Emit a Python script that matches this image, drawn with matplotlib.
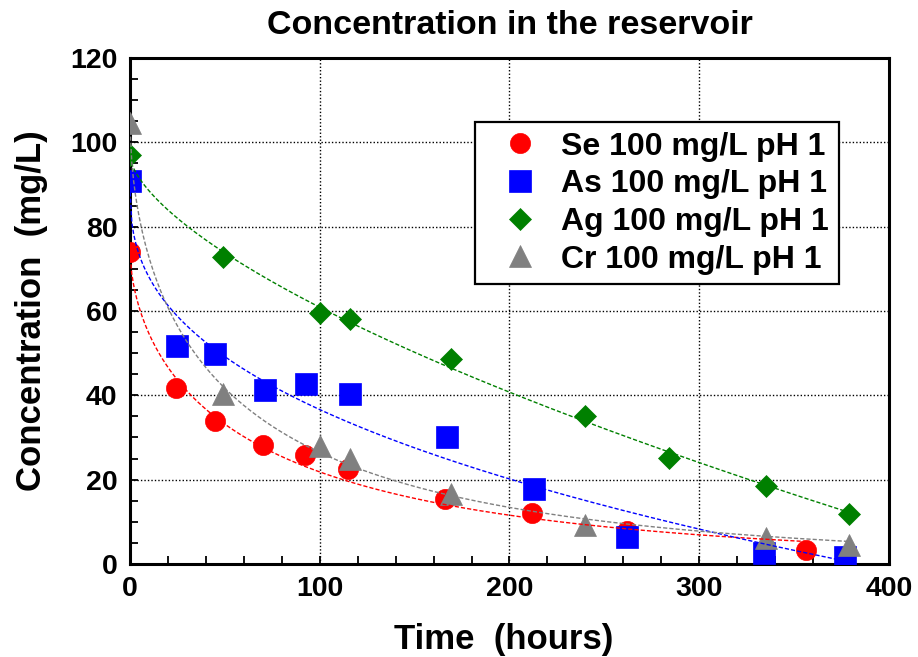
import numpy as np
import matplotlib
matplotlib.use("Agg")
import matplotlib.pyplot as plt
from matplotlib.ticker import MultipleLocator

plt.rcParams['font.family'] = ['Liberation Sans', 'DejaVu Sans']
plt.rcParams['font.weight'] = 'bold'

# sampling times (hours) and measured concentrations (mg/L)
t_se = [0, 24, 45, 70, 92, 115, 166, 212, 262, 356]
c_se = [74.0, 41.8, 33.9, 28.1, 25.8, 22.6, 15.5, 12.1, 7.8, 3.2]

t_as = [0, 25, 45, 71, 93, 116, 167, 213, 262, 334, 377]
c_as = [90.9, 51.7, 49.8, 41.2, 42.6, 40.4, 30.1, 17.8, 6.5, 2.6, 1.6]

t_ag = [0, 49, 100, 116, 169, 240, 284, 335, 379]
c_ag = [97.0, 72.7, 59.6, 58.0, 48.7, 35.0, 25.2, 18.6, 11.8]

t_cr = [0, 49, 100, 116, 169, 240, 335, 379]
c_cr = [104.5, 40.3, 28.0, 24.8, 16.7, 9.2, 6.2, 4.5]

labels = ['Se 100 mg/L pH 1', 'As 100 mg/L pH 1',
          'Ag 100 mg/L pH 1', 'Cr 100 mg/L pH 1']


def fit_power(t, c):
    # c = a - b*t^n ; n from a grid, a and b by least squares
    t = np.asarray(t, float)
    c = np.asarray(c, float)
    best = None
    for n in np.linspace(0.1, 1.5, 281):
        A = np.column_stack([np.ones_like(t), -t**n])
        coef = np.linalg.lstsq(A, c, rcond=None)[0]
        err = np.sum((A @ coef - c)**2)
        if best is None or err < best[0]:
            best = (err, coef[0], coef[1], n)
    _, a, b, n = best
    return lambda x: a - b * x**n


def fit_stretched(t, c):
    # c = a*exp(-k*t^n) ; grid over n and k, a by least squares
    t = np.asarray(t, float)
    c = np.asarray(c, float)
    best = None
    for n in np.linspace(0.1, 1.5, 141):
        tn = t**n
        for k in np.logspace(-4, 0, 400):
            g = np.exp(-k * tn)
            a = g @ c / (g @ g)
            err = np.sum((a * g - c)**2)
            if best is None or err < best[0]:
                best = (err, a, k, n)
    _, a, k, n = best
    return lambda x: a * np.exp(-k * x**n)


def fit_stretched_log(t, c):
    # c = c0*exp(-k*t^n) with c0 the first sample,
    # straight line through log(log(c0/c)) against log(t)
    t = np.asarray(t, float)
    c = np.asarray(c, float)
    c0 = c[0]
    n, lk = np.polyfit(np.log(t[1:]), np.log(np.log(c0 / c[1:])), 1)
    k = np.exp(lk)
    return lambda x: c0 * np.exp(-k * x**n)


fig = plt.figure(figsize=(9.18, 6.57), dpi=100)
ax = fig.add_axes([0.1416, 0.1416, 0.8268, 0.7701])

series = [
    (t_se, c_se, 'o', 'red', 14.5, fit_stretched_log),
    (t_as, c_as, 's', 'blue', 16.0, fit_power),
    (t_ag, c_ag, 'D', 'green', 11.0, fit_power),
    (t_cr, c_cr, '^', 'gray', 15.5, fit_stretched),
]

for (t, c, mk, col, ms, fitter), lab in zip(series, labels):
    ax.plot(t, c, mk, color=col, ms=ms, mec=col, mew=0.5,
            label=lab, zorder=3)
    f = fitter(t, c)
    x = np.linspace(0, t[-1], 400)
    ax.plot(x, f(x), color=col, lw=1.0, dashes=(3, 1.5), zorder=4)

ax.set_xlim(0, 400)
ax.set_ylim(0, 120)
ax.xaxis.set_major_locator(MultipleLocator(100))
ax.xaxis.set_minor_locator(MultipleLocator(20))
ax.yaxis.set_major_locator(MultipleLocator(20))
ax.yaxis.set_minor_locator(MultipleLocator(5))
ax.tick_params(which='both', direction='in', top=False, right=False,
               length=6, width=1.3)
ax.tick_params(which='major', labelsize=20.5, pad=9)
ax.grid(True, which='major', color='black', lw=1.0,
        linestyle=(0, (1, 1.5)))
for sp in ax.spines.values():
    sp.set_linewidth(2.2)

ax.set_xlabel('Time  (hours)', fontsize=25, fontweight='bold',
              labelpad=15, x=0.492)
ax.set_ylabel('Concentration  (mg/L)', fontsize=25, fontweight='bold',
              labelpad=16)
ax.set_title('Concentration in the reservoir', fontsize=24.5,
             fontweight='bold', pad=17)

leg = ax.legend(loc='upper left', bbox_to_anchor=(0.4545, 0.8735),
                borderaxespad=0, prop={'size': 23, 'weight': 'bold'},
                frameon=True, fancybox=False,
                edgecolor='black', framealpha=1, numpoints=1,
                handlelength=2.2, handletextpad=0.2, borderpad=0.3,
                labelspacing=0.24)
leg.get_frame().set_linewidth(1.6)

plt.savefig('out.png', dpi=100)
